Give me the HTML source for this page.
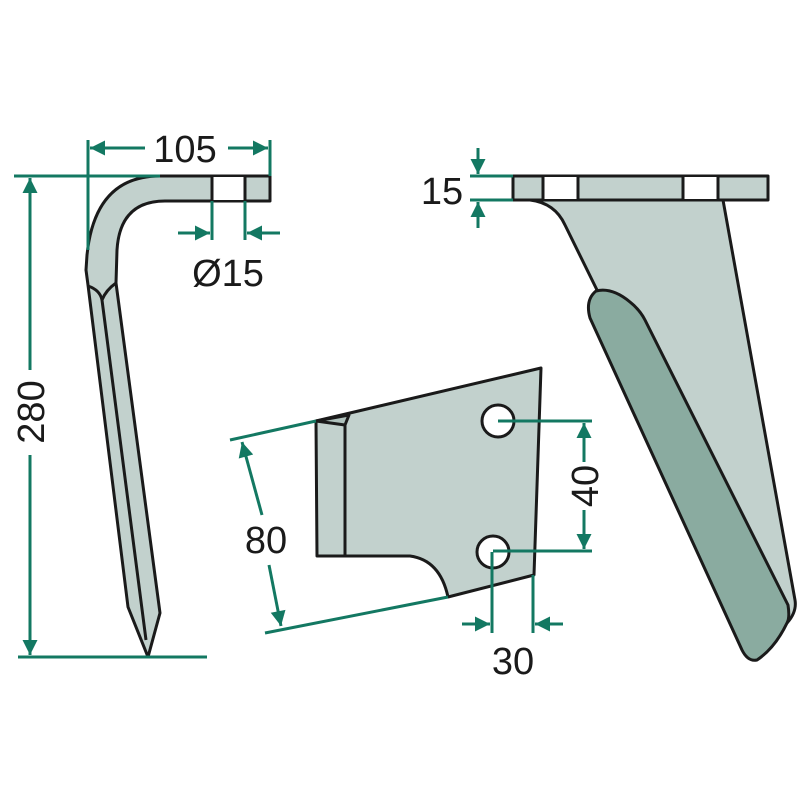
<!DOCTYPE html>
<html><head><style>body{margin:0;background:#fff}svg{display:block}</style></head><body>
<svg width="800" height="800" viewBox="0 0 800 800" xmlns="http://www.w3.org/2000/svg">
<defs>
<marker id="a" viewBox="0 0 10 10" refX="10" refY="5" markerWidth="6" markerHeight="5" orient="auto-start-reverse"><path d="M0,0L10,5L0,10z" fill="#137862"/></marker>
</defs>
<g fill="#c2d1cd" stroke="#1a1a1a" stroke-width="3" stroke-linejoin="round">
<!-- left tine -->
<path d="M270,176 L160,176 Q95,176 87,255 L86,270 L88,285 L128,607 L148,657 L160,613 L116,283 L117,250 Q120,201 165,201 L270,201 Z"/>
<path d="M88,286 Q100,290 102,300 Q106,290 116,283 M102,300 L146,640" fill="none"/>
<rect x="212" y="177" width="33" height="23" fill="#fff" stroke="none"/>
<path d="M212,176V201M245,176V201" fill="none"/>
<!-- right part -->
<path d="M530,200 Q555,203 565,225 L597,290 L787,623 Q797,612 795,600 L723,200 Z"/>
<path d="M596,291 Q612,287 630,302 Q640,310 645,320 L788,605 Q790,618 787,623 Q775,648 757,660 Q748,662 742,650 L590,318 Q585,300 596,291 Z" fill="#8aaba0"/>
<rect x="513" y="176" width="255" height="24"/>
<rect x="544" y="177" width="34" height="22" fill="#fff" stroke="none"/>
<rect x="684" y="177" width="34" height="22" fill="#fff" stroke="none"/>
<path d="M543,176V200M578,176V200M683,176V200M718,176V200" fill="none"/>
<!-- middle plate -->
<path d="M316,421 L541,368 L534,575 L448,597 Q440,560 410,556 L317,556 Z"/>
<path d="M316,421 L349,415 L345,425 Z M345,425 V556" fill="#b0c2bd"/>
<circle cx="498" cy="421" r="16" fill="#fff"/>
<circle cx="493" cy="552" r="16" fill="#fff"/>
</g>
<g stroke="#137862" stroke-width="3" fill="none">
<path d="M88,140V250M270,140V176"/>
<path d="M145,148H90" marker-end="url(#a)"/>
<path d="M228,148H268" marker-end="url(#a)"/>
<path d="M14,176H160M18,657H207"/>
<path d="M30,370V178" marker-end="url(#a)"/>
<path d="M30,455V655" marker-end="url(#a)"/>
<path d="M212,201V240M245,201V240"/>
<path d="M178,233H210" marker-end="url(#a)"/>
<path d="M280,233H247" marker-end="url(#a)"/>
<path d="M470,176H513M470,200H513"/>
<path d="M478,148V174" marker-end="url(#a)"/>
<path d="M478,228V202" marker-end="url(#a)"/>
<path d="M230,440L316,421M265,633L448,597"/>
<path d="M262,515L242,442" marker-end="url(#a)"/>
<path d="M269,565L281,626" marker-end="url(#a)"/>
<path d="M498,421H592M493,551H592"/>
<path d="M584,462V423" marker-end="url(#a)"/>
<path d="M584,510V549" marker-end="url(#a)"/>
<path d="M492,552V633M533,575V633"/>
<path d="M462,624H490" marker-end="url(#a)"/>
<path d="M563,624H535" marker-end="url(#a)"/>
</g>
<g font-family="Liberation Sans, sans-serif" font-size="38" fill="#1a1a1a" text-anchor="middle">
<text x="185" y="162">105</text>
<text x="228" y="286">Ø15</text>
<text x="442" y="204">15</text>
<text x="266" y="553">80</text>
<text x="513" y="674">30</text>
<text transform="translate(44,412) rotate(-90)">280</text>
<text transform="translate(598,486) rotate(-90)">40</text>
</g>
</svg>
</body></html>
